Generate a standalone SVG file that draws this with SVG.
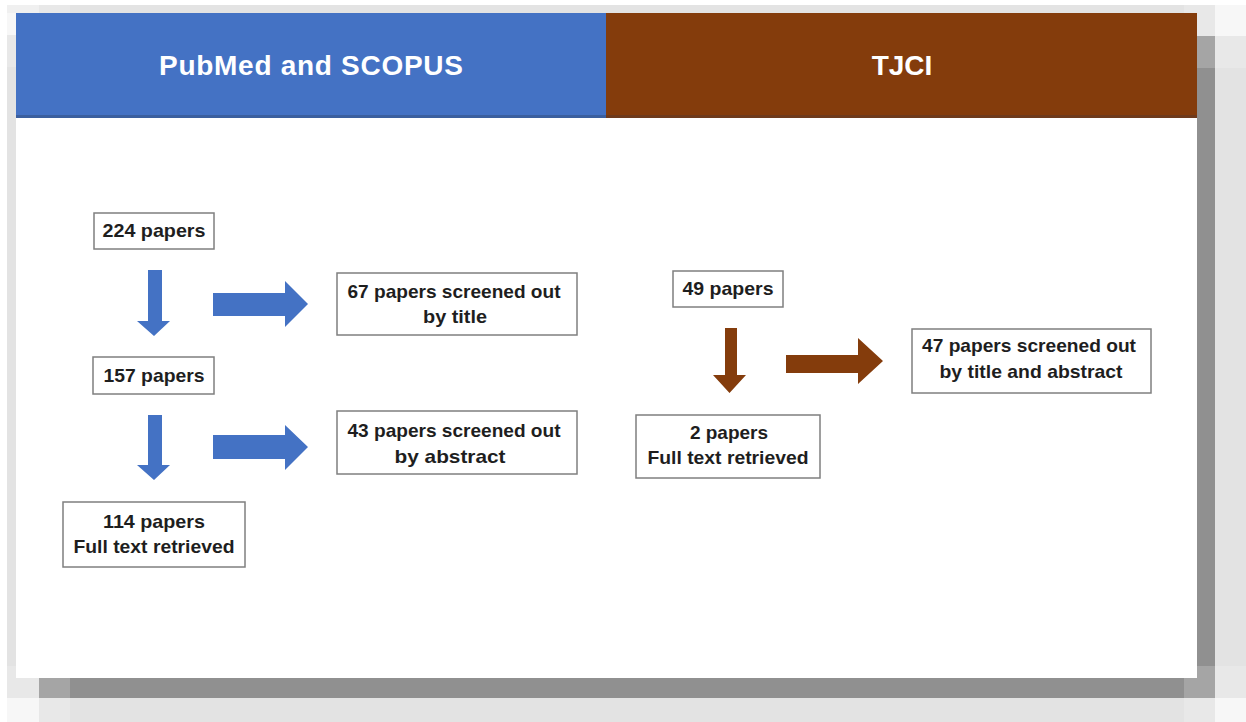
<svg xmlns="http://www.w3.org/2000/svg" width="1246" height="722" viewBox="0 0 1246 722">
<style>
.box{fill:#ffffff;stroke:#7f7f7f;stroke-width:1.5}
.t{font-family:"Liberation Sans",Arial,sans-serif;font-weight:bold;font-size:19px;fill:#1e1e1e;text-anchor:middle}
.h{font-family:"Liberation Sans",Arial,sans-serif;font-weight:bold;font-size:28px;fill:#ffffff;text-anchor:middle}
.blue{fill:#4472c4}
.brown{fill:#843c0c}
</style>
<rect x="0" y="0" width="1246" height="722" fill="#ffffff"/>
<g id="frame">
<rect x="7" y="5" width="32" height="8" fill="#f0f0f0"/>
<rect x="39" y="5" width="31" height="8" fill="#e8e8e8"/>
<rect x="70" y="5" width="1114" height="8" fill="#e3e3e3"/>
<rect x="1184" y="5" width="31" height="8" fill="#e8e8e8"/>
<rect x="1215" y="5" width="31" height="31" fill="#f7f7f7"/>
<rect x="7" y="13" width="9" height="22" fill="#f7f7f7"/>
<rect x="7" y="35" width="9" height="32" fill="#e8e8e8"/>
<rect x="7" y="67" width="9" height="599" fill="#e3e3e3"/>
<rect x="7" y="666" width="9" height="12" fill="#e8e8e8"/>
<rect x="7" y="678" width="32" height="20" fill="#e8e8e8"/>
<rect x="39" y="678" width="31" height="20" fill="#a5a5a5"/>
<rect x="70" y="678" width="1114" height="20" fill="#909090"/>
<rect x="1184" y="666" width="31" height="32" fill="#a5a5a5"/>
<rect x="7" y="698" width="32" height="24" fill="#f7f7f7"/>
<rect x="39" y="698" width="31" height="24" fill="#e8e8e8"/>
<rect x="70" y="698" width="1114" height="24" fill="#e3e3e3"/>
<rect x="1184" y="698" width="31" height="24" fill="#e8e8e8"/>
<rect x="1215" y="698" width="31" height="24" fill="#f7f7f7"/>
<rect x="1197" y="13" width="18" height="23" fill="#e8e8e8"/>
<rect x="1197" y="36" width="18" height="32" fill="#a5a5a5"/>
<rect x="1197" y="68" width="18" height="598" fill="#909090"/>
<rect x="1215" y="36" width="31" height="32" fill="#e8e8e8"/>
<rect x="1215" y="68" width="31" height="598" fill="#e3e3e3"/>
<rect x="1215" y="666" width="31" height="32" fill="#e8e8e8"/>
<rect x="16" y="13" width="1181" height="665" fill="#ffffff"/>
</g>
<g id="header-pubmed">
<rect x="16" y="13" width="590" height="104" fill="#4472c4"/>
<rect x="16" y="115" width="590" height="3" fill="#3b5f9e"/>
<text class="h" x="311" y="75" textLength="304">PubMed and SCOPUS</text>
</g>
<g id="header-tjci">
<rect x="606" y="13" width="591" height="104" fill="#843c0c"/>
<rect x="606" y="115" width="591" height="3" fill="#6e3a1c"/>
<text class="h" x="902" y="75">TJCI</text>
</g>
<g id="connectors">
<path class="blue" d="M148,270 H162 V321 H170 L154,336 L137,321 H148 Z"/>
<path class="blue" d="M148,415 H162 V465 H170 L154,480 L137,465 H148 Z"/>
<path class="blue" d="M213,293 H285 V281 L308,304 L285,327 V316 H213 Z"/>
<path class="blue" d="M213,435 H285 V425 L308,447 L285,470 V459 H213 Z"/>
<path class="brown" d="M725,328 H737 V375 H746 L729.5,393 L713,375 H725 Z"/>
<path class="brown" d="M786,355 H858 V338 L883,361 L858,384 V373 H786 Z"/>
</g>
<g id="n224">
<rect class="box" x="94" y="213" width="120" height="36"/>
<text class="t" x="154" y="237" textLength="103" lengthAdjust="spacingAndGlyphs">224 papers</text>
</g>
<g id="n157">
<rect class="box" x="93" y="357" width="121" height="37"/>
<text class="t" x="154" y="382" textLength="101" lengthAdjust="spacingAndGlyphs">157 papers</text>
</g>
<g id="n114">
<rect class="box" x="63" y="502" width="182" height="65"/>
<text class="t" x="154" y="528" textLength="102" lengthAdjust="spacingAndGlyphs">114 papers</text>
<text class="t" x="154" y="553" textLength="161" lengthAdjust="spacingAndGlyphs">Full text retrieved</text>
</g>
<g id="n67">
<rect class="box" x="337" y="273" width="240" height="62"/>
<text class="t" x="454" y="298" textLength="213" lengthAdjust="spacingAndGlyphs">67 papers screened out</text>
<text class="t" x="455" y="323" textLength="64" lengthAdjust="spacingAndGlyphs">by title</text>
</g>
<g id="n43">
<rect class="box" x="337" y="411" width="240" height="63"/>
<text class="t" x="454" y="437" textLength="213" lengthAdjust="spacingAndGlyphs">43 papers screened out</text>
<text class="t" x="450" y="463" textLength="111" lengthAdjust="spacingAndGlyphs">by abstract</text>
</g>
<g id="n49">
<rect class="box" x="673" y="271" width="110" height="36"/>
<text class="t" x="728" y="295" textLength="91" lengthAdjust="spacingAndGlyphs">49 papers</text>
</g>
<g id="n2">
<rect class="box" x="636" y="415" width="184" height="63"/>
<text class="t" x="729" y="439">2 papers</text>
<text class="t" x="728" y="464" textLength="161" lengthAdjust="spacingAndGlyphs">Full text retrieved</text>
</g>
<g id="n47">
<rect class="box" x="912" y="329" width="239" height="64"/>
<text class="t" x="1029" y="352" textLength="214" lengthAdjust="spacingAndGlyphs">47 papers screened out</text>
<text class="t" x="1031" y="378" textLength="183" lengthAdjust="spacingAndGlyphs">by title and abstract</text>
</g>
</svg>
